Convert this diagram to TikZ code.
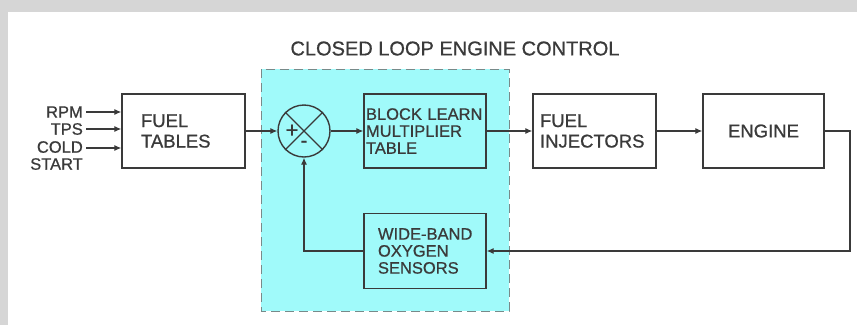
\documentclass[tikz,border=0pt]{standalone}
\usepackage{fontspec}
\setmainfont{Liberation Sans}[FakeBold=0.8]
\usetikzlibrary{arrows.meta}

\definecolor{loopcyan}{RGB}{160,250,250}
\definecolor{linegrey}{RGB}{58,58,58}
\definecolor{framegrey}{RGB}{214,214,214}
\definecolor{dashgrey}{RGB}{120,138,138}

\tikzset{
  blk/.style={draw=linegrey, line width=1.4pt, fill=white, minimum height=74pt,
    align=left, text=linegrey, inner ysep=0pt},
  bigtxt/.style={font=\fontsize{18.5}{20.5}\selectfont},
  smalltxt/.style={font=\fontsize{16.5}{17}\selectfont},
  sig/.style={draw=linegrey, line width=1.1pt, -{Latex[length=7pt,width=6pt]}},
  inlbl/.style={text=linegrey, font=\fontsize{16.5}{17}\selectfont, align=right, inner sep=0pt},
}

\begin{document}
\begin{tikzpicture}[x=1pt, y=-1pt]
  \useasboundingbox (0,0) rectangle (857,325);
  % Frame
  \fill[framegrey] (0,0) rectangle (857,12);
  \fill[framegrey] (0,12) rectangle (8,325);

  % Title and loop region
  \node[text=linegrey, font=\fontsize{20}{22}\selectfont] (title) at (455,48.5) {CLOSED LOOP ENGINE CONTROL};
  \draw[dashgrey, fill=loopcyan, line width=1pt, dash pattern=on 9pt off 5pt] (261,69) rectangle (509,311);

  % Blocks
  \node[blk, bigtxt, text width=85pt, inner xsep=19pt] (ftab) at (183.5,131) {FUEL\\TABLES};
  \node[blk, smalltxt, fill=loopcyan, text width=118pt, inner xsep=2pt] (blearn) at (425,131) {BLOCK LEARN\\MULTIPLIER\\TABLE};
  \node[blk, bigtxt, text width=109pt, inner xsep=7pt] (injectors) at (594.5,131) {FUEL\\INJECTORS};
  \node[blk, bigtxt, align=center, text width=111pt, inner xsep=5pt] (engine) at (763.5,131) {ENGINE};
  \node[blk, smalltxt, fill=loopcyan, minimum height=75pt, text width=94pt, inner xsep=14pt] (wbsensor) at (425,251) {\mbox{WIDE-BAND}\\OXYGEN\\SENSORS};

  % Summing junction
  \node[draw=linegrey, line width=1.4pt, circle, minimum size=52pt, inner sep=0pt] (sum) at (304,131) {};
  \draw[linegrey, line width=1.2pt] (sum.north west) -- (sum.south east)
    (sum.north east) -- (sum.south west);
  \node[text=linegrey, font=\fontsize{22}{22}\selectfont, inner sep=0pt] (plus) at (292,131) {+};
  \node[text=linegrey, font=\fontsize{20}{20}\selectfont, inner sep=0pt] (minus) at (304,144) {-};

  % Inputs
  \node[inlbl, anchor=east] (rpm) at (83,112) {RPM};
  \node[inlbl, anchor=east] (tps) at (83,129) {TPS};
  \node[inlbl, anchor=north east] (cold) at (83,141) {COLD\\START};
  \coordinate (coldin) at (86,148);

  % Connections
  \draw[sig] ([xshift=3pt]rpm.east) -- (rpm -| ftab.west);
  \draw[sig] ([xshift=3pt]tps.east) -- (tps -| ftab.west);
  \draw[sig] (coldin) -- (coldin -| ftab.west);
  \draw[sig] (ftab.east) -- (sum.west);
  \draw[sig] (sum.east) -- (blearn.west);
  \draw[sig] (blearn.east) -- (injectors.west);
  \draw[sig] (injectors.east) -- (engine.west);
  \coordinate (fbturn) at (850,251);
  \draw[sig] (engine.east) -| (fbturn) -- (wbsensor.east);
  \draw[sig] (wbsensor.west) -| (sum.south);
\end{tikzpicture}
\end{document}
